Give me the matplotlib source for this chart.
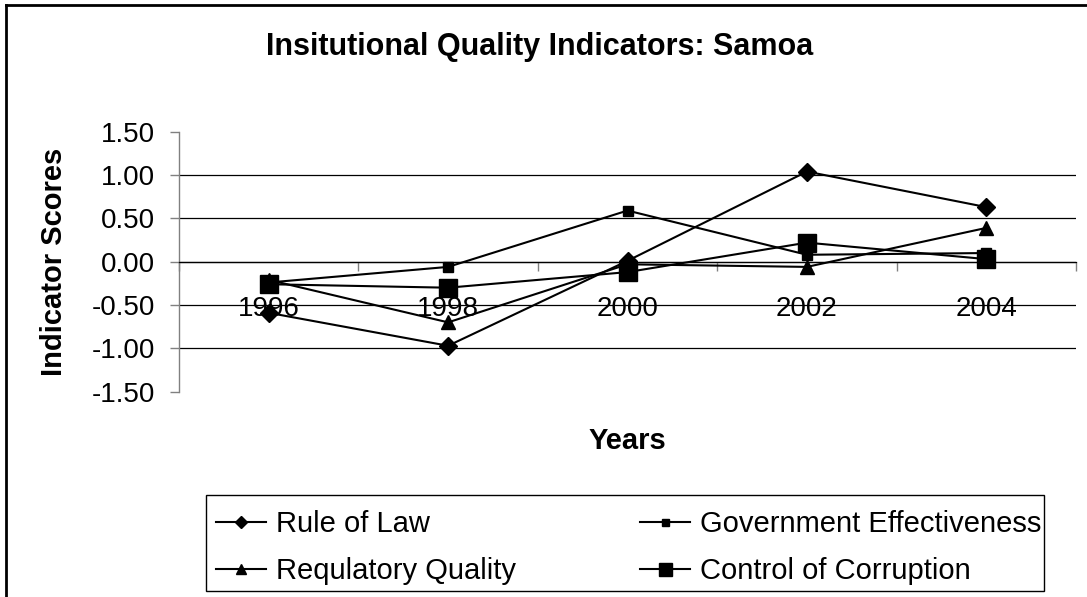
import matplotlib
matplotlib.use("Agg")
import matplotlib.pyplot as plt
from matplotlib.lines import Line2D
from matplotlib.patches import Rectangle

plt.rcParams['font.family'] = ['Liberation Sans', 'DejaVu Sans']

# ---- data ----
years = ["1996", "1998", "2000", "2002", "2004"]
rule_of_law = [-0.59, -0.97, 0.01, 1.04, 0.63]
gov_effectiveness = [-0.24, -0.06, 0.59, 0.08, 0.10]
regulatory_quality = [-0.21, -0.70, -0.03, -0.06, 0.39]
control_corruption = [-0.26, -0.30, -0.12, 0.22, 0.03]
yticks = [-1.5, -1.0, -0.5, 0.0, 0.5, 1.0, 1.5]
ytick_labels = ["-1.50", "-1.00", "-0.50", "0.00", "0.50", "1.00", "1.50"]

title = "Insitutional Quality Indicators: Samoa"
xlabel = "Years"
ylabel = "Indicator Scores"

W, H = 1087, 597
fig = plt.figure(figsize=(W / 100, H / 100), dpi=100)

# plot area in pixels
L, R, T, B = 179, 1076, 131.7, 391.7
ax = fig.add_axes([L / W, 1 - B / H, (R - L) / W, (B - T) / H])

x = list(range(len(years)))
ax.set_xlim(-0.5, len(years) - 0.5)
ax.set_ylim(yticks[0], yticks[-1])

# gridlines (not at the extremes)
for yv in yticks[1:-1]:
    ax.axhline(yv, color='black', lw=0.9, zorder=1)

lw = 1.5
h1, = ax.plot(x, rule_of_law, color='black', lw=lw, marker='D', ms=9,
              label="Rule of Law", zorder=3, clip_on=False)
h2, = ax.plot(x, gov_effectiveness, color='black', lw=lw, marker='s', ms=7,
              label="Government Effectiveness", zorder=3, clip_on=False)
h3, = ax.plot(x, regulatory_quality, color='black', lw=lw, marker='^', ms=10,
              label="Requlatory Quality", zorder=3, clip_on=False)
h4, = ax.plot(x, control_corruption, color='black', lw=lw, marker='s', ms=13,
              label="Control of Corruption", zorder=4, clip_on=False)

# spines
for s in ['top', 'right']:
    ax.spines[s].set_visible(False)
ax.spines['left'].set_color('#808080')
ax.spines['left'].set_linewidth(1.0)
ax.spines['bottom'].set_position(('data', 0))
ax.spines['bottom'].set_color('black')
ax.spines['bottom'].set_linewidth(0.9)

# y ticks
ax.set_yticks(yticks)
ax.set_yticklabels(ytick_labels)
ax.tick_params(axis='y', direction='out', length=6.5, width=1.0,
               color='#808080', pad=10.5, labelsize=20)

# x ticks: labels at category centres, tick marks between categories
ax.set_xticks(x)
ax.set_xticklabels(years)
ax.set_xticks([i - 0.5 for i in range(len(years) + 1)], minor=True)
ax.tick_params(axis='x', which='major', length=0, pad=25, labelsize=20)
ax.tick_params(axis='x', which='minor', direction='out', length=6.5,
               width=1.0, color='#808080')

# texts
fig.text(540 / W, 1 - 47 / H, title, ha='center', va='center',
         fontsize=22, fontweight='bold')
fig.text(627 / W, 1 - 441 / H, xlabel, ha='center', va='center',
         fontsize=21, fontweight='bold')
fig.text(54 / W, 1 - 262 / H, ylabel, ha='center', va='center',
         rotation=90, fontsize=21, fontweight='bold')

# outer chart frame (top and left visible)
fig.add_artist(Line2D([6 / W, 6 / W], [0, 1 - 5 / H], color='black', lw=2,
                      transform=fig.transFigure))
fig.add_artist(Line2D([6 / W, 1], [1 - 5 / H, 1 - 5 / H], color='black', lw=2,
                      transform=fig.transFigure))

# legend box
fig.add_artist(Rectangle((206 / W, 1 - 591 / H), 838 / W, 96 / H,
                         transform=fig.transFigure, fill=False,
                         edgecolor='black', lw=1.0))
fig.legend([h1, h3, h2, h4],
           [h1.get_label(), h3.get_label(), h2.get_label(), h4.get_label()],
           ncol=2, loc='upper left', bbox_to_anchor=(216 / W, 1 - 510 / H),
           bbox_transform=fig.transFigure, frameon=False, borderaxespad=0,
           borderpad=0, handlelength=1.72, handletextpad=0.34,
           columnspacing=4.25, labelspacing=0.65, fontsize=21, markerscale=0.72)

fig.savefig("out.png", dpi=100)
